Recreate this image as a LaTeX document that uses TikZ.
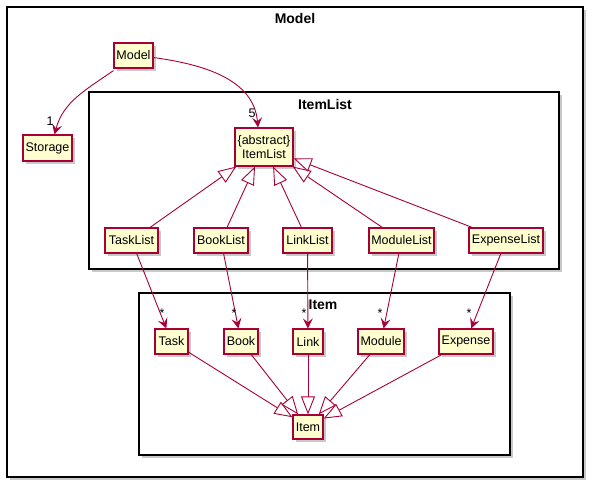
\documentclass[tikz,border=0pt]{standalone}
\usepackage{fontspec}
\setmainfont{Liberation Sans}
\usetikzlibrary{arrows.meta,shadows,positioning}
\definecolor{umlfill}{HTML}{FEFECE}
\definecolor{umlline}{HTML}{A80036}
\tikzset{
  cls/.style={draw=umlline, line width=1.2pt, fill=umlfill, inner sep=0pt, align=center,
    font=\fontsize{12.5}{14}\selectfont,
    drop shadow={shadow xshift=3pt, shadow yshift=-3pt, opacity=0.35, fill=black!60}},
  frame/.style={draw=black, line width=1.3pt, fill=white,
    drop shadow={shadow xshift=3pt, shadow yshift=-3pt, opacity=0.35, fill=black!60}},
  ftitle/.style={font=\fontsize{14}{16}\selectfont\bfseries, inner sep=0pt},
  assoc/.style={draw=umlline, line width=0.9pt, -{Stealth[length=10pt,width=10pt,inset=4pt]}},
  ext/.style={draw=umlline, line width=0.9pt, -{Triangle[open,length=18pt,width=14pt,fill=white]}},
  mult/.style={font=\fontsize{12.5}{14}\selectfont, inner sep=0pt}
}
\begin{document}
\begin{tikzpicture}[x=1pt,y=-1pt]
\useasboundingbox (0,0) rectangle (594,490);
% frames
\draw[frame] (7,7) rectangle (583,477);
\node[ftitle] (tmodel) at (295,18) {Model};
\draw[frame] (89,92) rectangle (559,269);
\node[ftitle] (titemlist) at (325,104) {ItemList};
\draw[frame] (139,293) rectangle (510,455);
% class nodes
\node[cls, minimum width=39pt, minimum height=25pt] (model) at (133.5,55.5) {Model};
\node[cls, minimum width=49pt, minimum height=26pt] (storage) at (47.5,148) {Storage};
\node[cls, minimum width=58pt, minimum height=38pt] (itemlist) at (264,147) {\{abstract\}\\ItemList};
\node[cls, minimum width=53pt, minimum height=25pt] (tasklist) at (131.5,240.5) {TaskList};
\node[cls, minimum width=54pt, minimum height=25pt] (booklist) at (221,240.5) {BookList};
\node[cls, minimum width=49pt, minimum height=25pt] (linklist) at (307.5,240.5) {LinkList};
\node[cls, minimum width=65pt, minimum height=25pt] (modulelist) at (401.5,240.5) {ModuleList};
\node[cls, minimum width=74pt, minimum height=25pt] (expenselist) at (506,240.5) {ExpenseList};
\node[cls, minimum width=33pt, minimum height=25pt] (task) at (171.5,341.5) {Task};
\node[cls, minimum width=34pt, minimum height=25pt] (book) at (241,341.5) {Book};
\node[cls, minimum width=30pt, minimum height=25pt] (link) at (308,341.5) {Link};
\node[cls, minimum width=46pt, minimum height=25pt] (module) at (381,341.5) {Module};
\node[cls, minimum width=54pt, minimum height=25pt] (expense) at (466,341.5) {Expense};
\node[cls, minimum width=30pt, minimum height=24pt] (item) at (308,427) {Item};
\node[ftitle] (titem) at (323,305) {Item};
% associations
\draw[assoc] ([yshift=-2pt]model.south west) to[out=215,in=75] ([xshift=7pt]storage.north);
\draw[assoc] ([yshift=-2pt]model.east) to[out=-8,in=95] ([xshift=-6pt]itemlist.north);
\node[mult] (m1) at (50,121) {1};
\node[mult] (m5) at (252,113) {5};
\draw[assoc] (tasklist) -- (task);
\draw[assoc] (booklist) -- (book);
\draw[assoc] (linklist) -- (link);
\draw[assoc] (modulelist) -- (module);
\draw[assoc] (expenselist) -- (expense);
\node[mult] (s1) at (162,313) {*};
\node[mult] (s2) at (234,313) {*};
\node[mult] (s3) at (304,313) {*};
\node[mult] (s4) at (380,313) {*};
\node[mult] (s5) at (469,313) {*};
% extensions
\draw[ext] (tasklist) -- (itemlist);
\draw[ext] (booklist) -- (itemlist);
\draw[ext] (linklist) -- (itemlist);
\draw[ext] (modulelist) -- (itemlist);
\draw[ext] (expenselist) -- (itemlist);
\draw[ext] (task) -- (item);
\draw[ext] (book) -- (item);
\draw[ext] (link) -- (item);
\draw[ext] (module) -- (item);
\draw[ext] (expense) -- (item);
\end{tikzpicture}
\end{document}
